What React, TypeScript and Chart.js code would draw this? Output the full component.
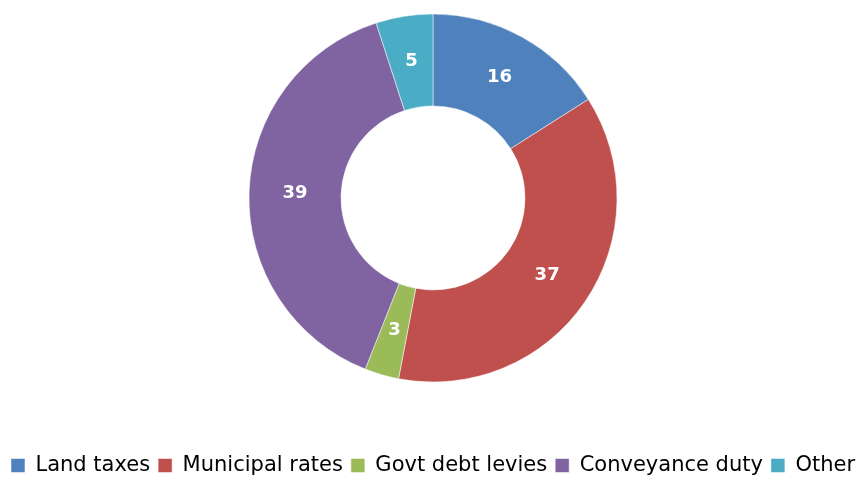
import React, { useEffect, useRef } from "react";
import { Chart, registerables } from "chart.js";

Chart.register(...registerables);

const categories = ["Land taxes", "Municipal rates", "Govt debt levies", "Conveyance duty", "Other"];
const values = [16, 37, 3, 39, 5];
const colors = ["#4F81BD", "#C0504D", "#9BBB59", "#8064A2", "#4BACC6"];

const valueLabels = {
  id: "valueLabels",
  afterDatasetsDraw(chart: any) {
    const { ctx } = chart;
    const meta = chart.getDatasetMeta(0);
    const data = chart.data.datasets[0].data;
    ctx.save();
    ctx.fillStyle = "#ffffff";
    ctx.font = "bold 18px 'DejaVu Sans'";
    ctx.textAlign = "center";
    ctx.textBaseline = "middle";
    meta.data.forEach((arc: any, i: number) => {
      const p = arc.tooltipPosition();
      ctx.fillText(String(data[i]), p.x, p.y);
    });
    ctx.restore();
  },
};

export default function App() {
  const ref = useRef<HTMLCanvasElement | null>(null);
  useEffect(() => {
    if (!ref.current) return;
    const chart = new Chart(ref.current, {
      type: "doughnut",
      data: {
        labels: categories,
        datasets: [
          {
            data: values,
            backgroundColor: colors,
            borderColor: "#ffffff",
            borderWidth: 0.5,
            hoverBorderWidth: 0.5,
          },
        ],
      },
      options: {
        responsive: false,
        animation: false,
        radius: 184,
        cutout: "50%",
        layout: { padding: { top: 14, bottom: -9, left: 0, right: 0 } },
        plugins: {
          tooltip: { enabled: false },
          legend: {
            position: "bottom",
            title: { display: true, text: "", padding: { top: 45, bottom: 14 }, font: { size: 5 } },
            labels: {
              boxWidth: 14,
              boxHeight: 14,
              padding: 8,
              color: "#000000",
              font: { family: "'DejaVu Sans'", size: 21 },
            },
          },
        },
      },
      plugins: [valueLabels],
    });
    return () => chart.destroy();
  }, []);
  return (
    <div style={{ position: "absolute", left: 0, top: 0, width: 866, height: 477, background: "#fff" }}>
      <canvas ref={ref} width={866} height={477} />
    </div>
  );
}
